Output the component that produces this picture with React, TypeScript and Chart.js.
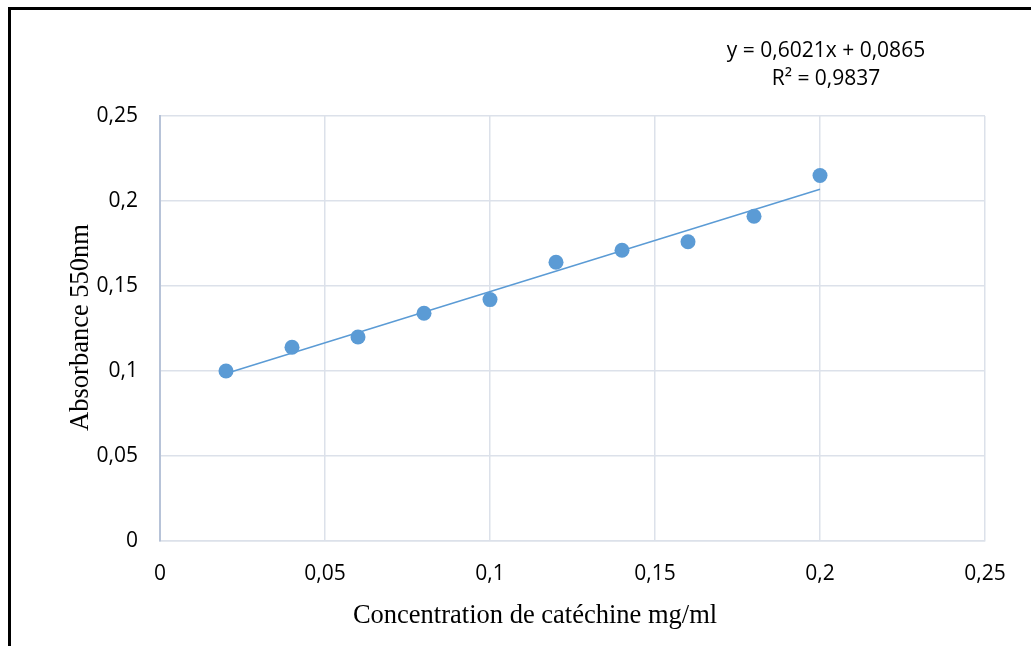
import React, { useEffect, useRef } from "react";
import { Chart, registerables } from "chart.js";

Chart.register(...registerables);

const concentrations = [0.02, 0.04, 0.06, 0.08, 0.1, 0.12, 0.14, 0.16, 0.18, 0.2];
const absorbances = [0.1, 0.114, 0.12, 0.134, 0.142, 0.164, 0.171, 0.176, 0.191, 0.215];
const trendX = [0.02, 0.2];
const trendY = [0.0985, 0.2069];
const tickValues = [0, 0.05, 0.1, 0.15, 0.2, 0.25];
const tickLabels = ["0", "0,05", "0,1", "0,15", "0,2", "0,25"];
const equationLines = ["y = 0,6021x + 0,0865", "R² = 0,9837"];
const xTitle = "Concentration de catéchine mg/ml";
const yTitle = "Absorbance 550nm";

const BLUE = "#5B9BD5";
const GRID = "#DCE1EA";

function labelFor(v: number) {
  let best = 0;
  for (let i = 0; i < tickValues.length; i++) {
    if (Math.abs(tickValues[i] - v) < Math.abs(tickValues[best] - v)) best = i;
  }
  return tickLabels[best];
}

const textPlugin = {
  id: "texts",
  afterDraw(chart: any) {
    const ctx = chart.ctx;
    ctx.save();
    ctx.fillStyle = "#000";
    ctx.font = "21px 'Open Sans'";
    ctx.textAlign = "center";
    ctx.textBaseline = "alphabetic";
    ctx.fillText(equationLines[0], 826, 57);
    ctx.fillText(equationLines[1], 826, 85);

    ctx.font = "26.5px 'Liberation Serif'";
    ctx.fillText(xTitle, 535, 623);

    ctx.translate(88, 327.5);
    ctx.rotate(-Math.PI / 2);
    ctx.fillText(yTitle, 0, 0);
    ctx.restore();
  },
};

export default function App() {
  const ref = useRef<HTMLCanvasElement>(null);
  useEffect(() => {
    if (!ref.current) return;
    const chart = new Chart(ref.current, {
      type: "scatter",
      data: {
        datasets: [
          {
            label: "Absorbance",
            data: concentrations.map((x, i) => ({ x, y: absorbances[i] })),
            backgroundColor: BLUE,
            borderColor: BLUE,
            pointRadius: 7.5,
            pointBorderWidth: 0,
            order: 1,
          },
          {
            label: "Linéaire",
            data: trendX.map((x, i) => ({ x, y: trendY[i] })),
            showLine: true,
            borderColor: BLUE,
            borderWidth: 1.5,
            pointRadius: 0,
            order: 2,
          },
        ],
      },
      options: {
        responsive: false,
        animation: false,
        devicePixelRatio: 1,
        layout: { padding: { top: 116, right: 46, bottom: 0, left: 0 } },
        plugins: { legend: { display: false }, tooltip: { enabled: false } },
        scales: {
          x: {
            type: "linear",
            min: 0,
            max: 0.25,
            afterFit: (s: any) => {
              s.height = 105;
            },
            afterBuildTicks: (s: any) => {
              s.ticks = tickValues.map((v) => ({ value: v }));
            },
            ticks: {
              callback: (v: any) => labelFor(Number(v)),
              font: { family: "'Open Sans'", size: 21 },
              color: "#000",
              padding: 20,
              maxRotation: 0,
            },
            grid: { color: GRID, lineWidth: 1.5, drawTicks: false },
            border: { color: GRID, width: 1.5 },
            title: { display: false },
          },
          y: {
            type: "linear",
            min: 0,
            max: 0.25,
            afterFit: (s: any) => {
              s.width = 160;
            },
            afterBuildTicks: (s: any) => {
              s.ticks = tickValues.map((v) => ({ value: v }));
            },
            ticks: {
              callback: (v: any) => labelFor(Number(v)),
              font: { family: "'Open Sans'", size: 21 },
              color: "#000",
              padding: 22,
            },
            grid: { color: GRID, lineWidth: 1.5, drawTicks: false },
            border: { color: "#B7C3D8", width: 2 },
            title: { display: false },
          },
        },
      },
      plugins: [textPlugin],
    });
    return () => chart.destroy();
  }, []);

  return (
    <div style={{ position: "absolute", left: 0, top: 0, width: 1031, height: 646, background: "#fff", overflow: "hidden" }}>
      <canvas ref={ref} width={1031} height={646} style={{ position: "absolute", left: 0, top: 0 }} />
      <div
        style={{
          position: "absolute",
          left: 8,
          top: 7,
          width: 1031,
          height: 646,
          borderLeft: "3px solid #000",
          borderTop: "3px solid #000",
          pointerEvents: "none",
        }}
      />
    </div>
  );
}
